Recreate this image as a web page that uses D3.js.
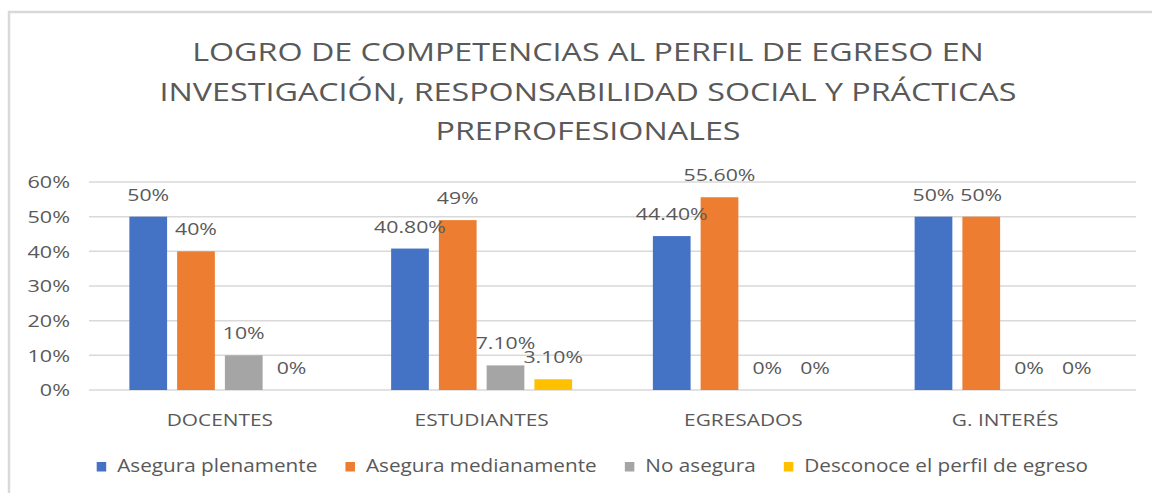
<!DOCTYPE html>
<html>
<head>
<meta charset="utf-8">
<script src="https://cdn.jsdelivr.net/npm/d3@7"></script>
<style>
  body { margin: 0; background: #fff; }
  svg text { font-family: "Open Sans", "Noto Sans", sans-serif; fill: #595959; }
</style>
</head>
<body>
<div id="graph-container"></div>
<script>
// Chart data
const categories = ["DOCENTES", "ESTUDIANTES", "EGRESADOS", "G. INTERÉS"];
const seriesNames = ["Asegura plenamente", "Asegura medianamente", "No asegura", "Desconoce el perfil de egreso"];
const plenamente = [50, 40.8, 44.4, 50];
const medianamente = [40, 49, 55.6, 50];
const noAsegura = [10, 7.1, 0, 0];
const desconoce = [0, 3.1, 0, 0];
const yTicks = [0, 10, 20, 30, 40, 50, 60];
const titleLines = [
    "LOGRO DE COMPETENCIAS AL PERFIL DE EGRESO EN",
    "INVESTIGACIÓN, RESPONSABILIDAD SOCIAL Y PRÁCTICAS",
    "PREPROFESIONALES"
];
const colors = ["#4472C4", "#ED7D31", "#A5A5A5", "#FFC000"];

const seriesValues = [plenamente, medianamente, noAsegura, desconoce];

const width = 1152;
const height = 493;

const svg = d3.select("#graph-container")
    .append("svg")
    .attr("width", width)
    .attr("height", height);

// the source screenshot is stretched sideways, so text gets a horizontal scale
function stretch(sel, sx) {
    sel.each(function () {
        const t = d3.select(this);
        const x = +t.attr("x") || 0;
        const y = +t.attr("y") || 0;
        t.attr("x", 0).attr("y", 0)
            .attr("transform", `translate(${x},${y}) scale(${sx},1)`);
    });
}

// chart frame (only top + left visible)
svg.append("path")
    .attr("d", "M9,493 V12 H1152")
    .attr("fill", "none")
    .attr("stroke", "#d9d9d9")
    .attr("stroke-width", 2.5);

// Title
svg.append("g")
    .selectAll("text")
    .data(titleLines)
    .enter()
    .append("text")
    .attr("x", 588)
    .attr("y", (d, i) => 61 + i * 39.5)
    .style("text-anchor", "middle")
    .style("font-size", "25.5px")
    .text(d => d)
    .call(stretch, 1.265);

// Scales
const xScale = d3.scaleBand()
    .domain(categories)
    .range([89, 1136]);

const xInner = d3.scaleBand()
    .domain(seriesNames)
    .range([0, 181])
    .paddingInner(0.21);

const yScale = d3.scaleLinear()
    .domain([0, 60])
    .range([390, 182]);

// Gridlines
svg.append("g")
    .selectAll("line")
    .data(yTicks)
    .enter()
    .append("line")
    .attr("x1", 89)
    .attr("x2", 1136)
    .attr("y1", d => yScale(d))
    .attr("y2", d => yScale(d))
    .attr("stroke", "#d9d9d9")
    .attr("stroke-width", 1.5);

// y axis labels
const yAxis = svg.append("g")
    .attr("transform", "translate(70,0)")
    .call(d3.axisLeft(yScale).tickValues(yTicks).tickSize(0).tickPadding(0).tickFormat(d => d + "%"));
yAxis.select(".domain").remove();
yAxis.selectAll("text")
    .style("font-size", "17px")
    .style("font-family", null)
    .attr("fill", null)
    .attr("dy", "0.35em")
    .call(stretch, 1.27);

// x axis labels
const xAxis = svg.append("g")
    .attr("transform", "translate(0,414)")
    .call(d3.axisBottom(xScale).tickSize(0).tickPadding(0));
xAxis.select(".domain").remove();
xAxis.selectAll("text")
    .style("font-size", "16.3px")
    .style("font-family", null)
    .attr("fill", null)
    .call(stretch, 1.28);

// flatten into bar records
const bars = [];
categories.forEach((cat, ci) => {
    seriesNames.forEach((s, si) => {
        bars.push({ cat: cat, series: s, si: si, value: seriesValues[si][ci] });
    });
});

const fmt = v => Number.isInteger(v) ? v + "%" : v.toFixed(2) + "%";
const groupOffset = d => xScale(d.cat) + xScale.bandwidth() / 2 - 90.5;

svg.append("g")
    .selectAll("rect")
    .data(bars.filter(d => d.value > 0))
    .enter()
    .append("rect")
    .attr("x", d => groupOffset(d) + xInner(d.series))
    .attr("y", d => yScale(d.value))
    .attr("width", xInner.bandwidth())
    .attr("height", d => yScale(0) - yScale(d.value))
    .attr("fill", d => colors[d.si]);

// value labels
svg.append("g")
    .selectAll("text")
    .data(bars)
    .enter()
    .append("text")
    .attr("x", d => groupOffset(d) + xInner(d.series) + xInner.bandwidth() / 2)
    .attr("y", d => yScale(d.value) - 16)
    .style("text-anchor", "middle")
    .style("font-size", "16px")
    .text(d => fmt(d.value))
    .call(stretch, 1.33);

// Legend
const legendSx = 1.12;
const legend = svg.append("g");
const items = legend.selectAll("g")
    .data(seriesNames)
    .enter()
    .append("g");
items.append("rect")
    .attr("x", 0)
    .attr("width", 9.5)
    .attr("height", 9.5)
    .attr("y", -4.5)
    .attr("fill", (d, i) => colors[i]);
items.append("text")
    .attr("x", 20.5)
    .attr("y", 5.5)
    .style("font-size", "18.5px")
    .text(d => d)
    .call(stretch, legendSx);

const textW = [];
items.each(function () {
    textW.push(d3.select(this).select("text").node().getComputedTextLength() * legendSx);
});
const legStart = 96.7, legEnd = 1088;
const gap = (legEnd - legStart - d3.sum(textW) - 4 * 20.5) / 3;
let lx = legStart;
items.each(function (d, i) {
    d3.select(this).attr("transform", `translate(${lx},466.5)`);
    lx += 20.5 + textW[i] + gap;
});
</script>
</body>
</html>
